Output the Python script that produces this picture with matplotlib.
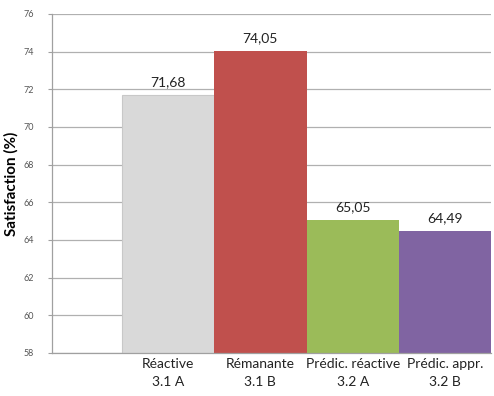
import matplotlib
matplotlib.use("Agg")
import matplotlib.pyplot as plt

plt.rcParams['font.family'] = ['Lato', 'DejaVu Sans']

categories = ['Réactive\n3.1 A', 'Rémanante\n3.1 B', 'Prédic. réactive\n3.2 A', 'Prédic. appr.\n3.2 B']
values = [71.68, 74.05, 65.05, 64.49]
colors = ['#D9D9D9', '#C0504D', '#9BBB59', '#8064A2']
yticks = [58, 60, 62, 64, 66, 68, 70, 72, 74, 76]

fig = plt.figure(figsize=(4.94, 3.96), dpi=100)
ax = fig.add_axes([0.105, 0.109, 0.889, 0.856])

pos = range(len(values))
bars = ax.bar(pos, values, width=1.0, color=colors, zorder=2)
bars[0].set_edgecolor('#C8C8C8')
bars[0].set_linewidth(0.8)

for x, v in zip(pos, values):
    ax.text(x, v + 0.35, f"{v:.2f}".replace('.', ','), ha='center', va='bottom',
            fontsize=10, color='#222222')

ax.set_ylim(58, 76)
ax.set_xlim(-1.26, 3.5)
ax.set_yticks(yticks)
ax.set_yticklabels([str(t) for t in yticks], fontsize=6.5, color='#555555')
ax.yaxis.grid(True, color='#B0B0B0', linewidth=0.9, zorder=0)
ax.set_axisbelow(True)

ax.set_xticks(list(pos))
ax.set_xticklabels(categories, fontsize=10, color='#222222', linespacing=1.6)
ax.tick_params(axis='x', length=0, pad=4)
ax.tick_params(axis='y', length=3, color='#A0A0A0', pad=10)

for s in ['top', 'right']:
    ax.spines[s].set_visible(False)
for s in ['left', 'bottom']:
    ax.spines[s].set_color('#A0A0A0')
    ax.spines[s].set_linewidth(0.9)

ax.set_ylabel('Satisfaction (%)', fontsize=11, fontweight='bold')
ax.yaxis.set_label_coords(-0.075, 0.5)

fig.savefig('out.png', dpi=100)
